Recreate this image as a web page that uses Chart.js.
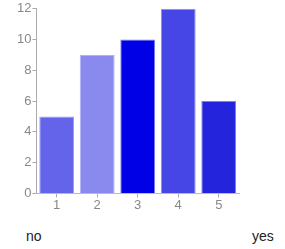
<!DOCTYPE html>
<html>
<head>
<meta charset="utf-8">
<script src="https://cdn.jsdelivr.net/npm/chart.js@4"></script>
<style>
  html, body { margin: 0; padding: 0; background: #fff; }
  #wrap { position: relative; width: 285px; height: 249px; }
  #box { position: absolute; left: 0; top: 0; width: 285px; height: 213px; }
  .end { position: absolute; top: 228px; font: 14px "Liberation Sans", Arial, sans-serif; color: #222; }
</style>
</head>
<body>
<div id="wrap">
  <div id="box"><canvas id="barChart"></canvas></div>
  <div class="end" style="left:26px">no</div>
  <div class="end" style="left:252px">yes</div>
</div>
<script>
// Dados do gráfico
const categories = ['1', '2', '3', '4', '5'];
const counts = [5, 9, 10, 12, 6];
const barColors = ['#6464ea', '#8a8aee', '#0000e6', '#4646e6', '#2424dc'];
const edgeColors = ['#9a9af2', '#b0b0f4', '#7a7af0', '#8e8ef0', '#8080ea'];
const yTicks = [0, 2, 4, 6, 8, 10, 12];

const tickFont = { family: '"Liberation Sans", Arial, sans-serif', size: 13 };

function initBarChart() {
  const ctx = document.getElementById('barChart');
  if (!ctx) return;

  new Chart(ctx, {
    type: 'bar',
    data: {
      labels: categories,
      datasets: [{
        data: counts,
        backgroundColor: barColors,
        borderColor: edgeColors,
        borderWidth: 1,
        barPercentage: 0.86,
        categoryPercentage: 1
      }]
    },
    options: {
      responsive: true,
      maintainAspectRatio: false,
      animation: false,
      layout: { padding: { top: 8, right: 46, left: 16, bottom: 0 } },
      plugins: {
        legend: { display: false },
        tooltip: { enabled: false }
      },
      scales: {
        y: {
          min: 0,
          max: 12,
          afterBuildTicks: (axis) => { axis.ticks = yTicks.map(v => ({ value: v })); },
          border: { color: '#aaa', width: 1 },
          grid: { drawOnChartArea: false, color: '#aaa', tickLength: 4 },
          ticks: { color: '#888', font: tickFont, padding: 1 }
        },
        x: {
          border: { color: '#bbb', width: 1 },
          grid: { drawOnChartArea: false, color: '#aaa', tickLength: 4, offset: false },
          ticks: { color: '#888', font: tickFont, padding: 0 }
        }
      }
    }
  });
}

document.addEventListener('DOMContentLoaded', () => {
  initBarChart();
});
</script>
</body>
</html>
